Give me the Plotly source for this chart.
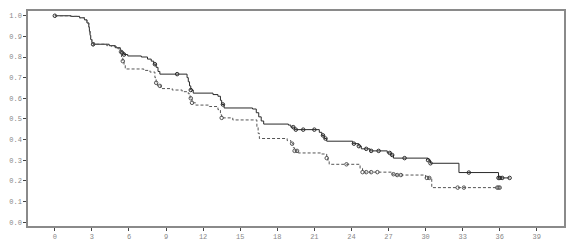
import plotly.graph_objects as go
import bisect

# Group 1 (solid) step curve: time, survival after the step
g1_time = [0, 1.3, 2.0, 2.4, 2.6, 2.75, 2.8, 2.85, 2.9, 3.0, 3.1,
           4.4, 4.9, 5.3, 5.45, 5.6, 5.9, 7.0, 7.5, 7.8, 8.0, 8.2, 8.35, 8.5,
           10.7, 10.8, 10.9, 11.0, 11.2, 12.8, 13.2, 13.4, 13.5, 13.7,
           16.0, 16.3, 16.5, 16.7, 16.9, 18.9, 19.1, 19.4,
           21.4, 21.6, 21.8, 22.0, 24.1, 24.6, 24.8, 25.5,
           26.9, 27.2, 27.4, 30.2, 30.4, 32.7, 35.9, 36.8]
g1_surv = [1.0, 0.997, 0.99, 0.98, 0.965, 0.945, 0.925, 0.905, 0.885, 0.87, 0.862,
           0.855, 0.845, 0.832, 0.82, 0.812, 0.805, 0.80, 0.79, 0.78, 0.765, 0.75, 0.73, 0.717,
           0.70, 0.68, 0.66, 0.64, 0.625, 0.618, 0.61, 0.59, 0.57, 0.553,
           0.548, 0.53, 0.51, 0.49, 0.475, 0.47, 0.46, 0.448,
           0.435, 0.42, 0.405, 0.392, 0.38, 0.368, 0.355, 0.345,
           0.335, 0.325, 0.31, 0.30, 0.285, 0.24, 0.214, 0.214]
g1_cens = [0, 3.1, 5.45, 5.6, 8.1, 9.9, 11.0, 13.6, 19.3, 19.5, 20.1, 21.0, 21.7,
           21.9, 24.2, 24.6, 25.2, 25.6, 26.2, 27.1, 27.3, 28.3, 30.2, 30.4,
           33.5, 35.9, 36.0, 36.2, 36.8]

# Group 2 (dashed) step curve
g2_time = [0, 1.3, 2.0, 2.4, 2.6, 2.75, 2.8, 2.85, 2.9, 3.0, 3.1,
           4.2, 4.6, 5.1, 5.3, 5.4, 5.5, 5.6, 5.7,
           7.2, 7.7, 8.1, 8.2, 8.3, 8.6,
           9.5, 10.3, 10.8, 10.95, 11.1, 11.4,
           12.5, 13.2, 13.4, 13.5, 14.4,
           16.35, 16.45, 16.55,
           18.8, 19.1, 19.3, 19.4, 19.7,
           21.5, 22.0, 22.1, 22.2,
           24.7, 24.9, 27.3, 27.5, 30.0, 30.5, 35.9]
g2_surv = [1.0, 0.997, 0.99, 0.98, 0.965, 0.945, 0.925, 0.905, 0.885, 0.87, 0.862,
           0.855, 0.85, 0.84, 0.825, 0.80, 0.78, 0.76, 0.742,
           0.735, 0.727, 0.70, 0.675, 0.66, 0.647,
           0.64, 0.632, 0.622, 0.60, 0.578, 0.567,
           0.56, 0.545, 0.52, 0.505, 0.495,
           0.46, 0.43, 0.405,
           0.395, 0.38, 0.36, 0.345, 0.335,
           0.33, 0.31, 0.295, 0.28,
           0.26, 0.242, 0.232, 0.228, 0.214, 0.167, 0.167]
g2_cens = [3.1, 5.35, 5.5, 8.2, 8.5, 11.0, 11.1, 13.5, 19.2, 19.4, 19.6, 22.0,
           23.6, 24.9, 25.2, 25.6, 26.1, 27.4, 27.7, 28.0, 30.1, 30.3, 32.6,
           33.1, 35.8, 35.9, 36.0]

x_ticks = [0, 3, 6, 9, 12, 15, 18, 21, 24, 27, 30, 33, 36, 39]
y_ticks = [0.0, 0.1, 0.2, 0.3, 0.4, 0.5, 0.6, 0.7, 0.8, 0.9, 1.0]


def surv_at(times, survs, t):
    i = bisect.bisect_right(times, t) - 1
    return survs[max(i, 0)]


fig = go.Figure()
groups = [
    (g1_time, g1_surv, g1_cens, "#2a2a2a", "solid"),
    (g2_time, g2_surv, g2_cens, "#555555", "3px,2px"),
]
for times, survs, cens, col, dash in groups:
    fig.add_trace(go.Scatter(
        x=times, y=survs, mode="lines", line_shape="hv",
        line=dict(color=col, width=1.0, dash=dash),
        showlegend=False, hoverinfo="skip"))
    fig.add_trace(go.Scatter(
        x=cens, y=[surv_at(times, survs, t) for t in cens], mode="markers",
        marker=dict(symbol="circle-open", size=3.5, color=col,
                    line=dict(width=1.0, color=col)),
        showlegend=False, hoverinfo="skip"))

axis_common = dict(
    showgrid=False, zeroline=False, showline=True, mirror=True,
    linecolor="#8a8a8a", linewidth=1.5,
    ticks="outside", ticklen=3, tickwidth=1, tickcolor="#444",
    tickfont=dict(family="Liberation Mono", size=7, color="#888"),
)
fig.update_xaxes(range=[-2.17, 41.2], tickvals=x_ticks,
                 ticktext=[str(v) for v in x_ticks], **axis_common)
fig.update_yaxes(range=[-0.019, 1.023], tickvals=y_ticks,
                 ticktext=[f"{v:.1f}" for v in y_ticks], **axis_common)
fig.update_layout(
    width=576, height=250,
    margin=dict(l=25, r=12, t=9, b=17),
    paper_bgcolor="white", plot_bgcolor="white",
)
fig.write_html("out.html")
